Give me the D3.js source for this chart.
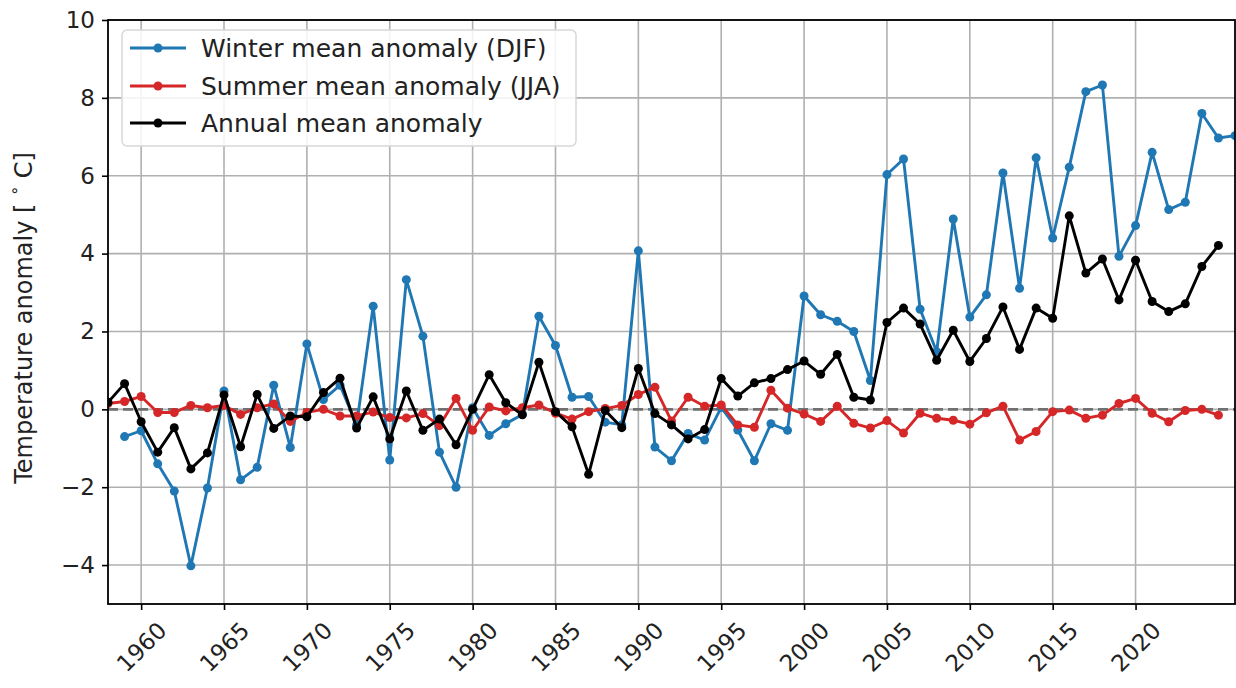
<!DOCTYPE html>
<html>
<head>
<meta charset="utf-8">
<script src="https://cdn.jsdelivr.net/npm/d3@7/dist/d3.min.js"></script>
<style>
  html, body { margin: 0; padding: 0; background: #fff; }
  svg { display: block; font-family: "DejaVu Sans", sans-serif; }
</style>
</head>
<body>
<svg id="chart" width="1236" height="688"></svg>
<script>
// ---- data ----
const annualYears = d3.range(1958, 2026);   // 1958..2025
const winterYears = d3.range(1959, 2027);   // 1959..2026

const winterValues = [
  -0.70, -0.55, -1.40, -2.10, -4.02, -2.02, 0.47, -1.81, -1.49, 0.62,
  -0.98, 1.68, 0.25, 0.62, -0.40, 2.65, -1.30, 3.33, 1.88, -1.10,
  -2.00, 0.04, -0.67, -0.37, -0.13, 2.39, 1.64, 0.31, 0.33, -0.33,
  -0.40, 4.07, -0.97, -1.32, -0.62, -0.79, 0.05, -0.53, -1.32, -0.37,
  -0.54, 2.91, 2.43, 2.26, 2.00, 0.74, 6.03, 6.43, 2.57, 1.48,
  4.89, 2.37, 2.94, 6.07, 3.11, 6.46, 4.40, 6.22, 8.16, 8.33,
  3.93, 4.72, 6.60, 5.13, 5.32, 7.60, 6.97, 7.03
];

const summerValues = [
  0.15, 0.20, 0.33, -0.08, -0.08, 0.10, 0.04, 0.10, -0.13, 0.04,
  0.14, -0.31, -0.08, 0.00, -0.17, -0.17, -0.07, -0.21, -0.22, -0.11,
  -0.42, 0.28, -0.54, 0.06, -0.04, 0.04, 0.11, -0.10, -0.25, -0.06,
  0.02, 0.10, 0.38, 0.57, -0.30, 0.31, 0.08, 0.11, -0.40, -0.46,
  0.49, 0.03, -0.12, -0.31, 0.08, -0.36, -0.48, -0.29, -0.61, -0.10,
  -0.23, -0.28, -0.38, -0.09, 0.08, -0.79, -0.57, -0.06, -0.02, -0.23,
  -0.15, 0.15, 0.28, -0.10, -0.32, -0.03, 0.00, -0.15
];

const annualValues = [
  0.18, 0.66, -0.32, -1.10, -0.47, -1.53, -1.12, 0.37, -0.96, 0.38,
  -0.49, -0.17, -0.19, 0.43, 0.80, -0.48, 0.32, -0.76, 0.47, -0.54,
  -0.25, -0.91, 0.00, 0.89, 0.17, -0.14, 1.21, -0.06, -0.45, -1.67,
  -0.03, -0.47, 1.05, -0.11, -0.40, -0.76, -0.52, 0.79, 0.34, 0.68,
  0.79, 1.02, 1.24, 0.90, 1.41, 0.31, 0.24, 2.23, 2.60, 2.19,
  1.26, 2.03, 1.23, 1.82, 2.63, 1.54, 2.60, 2.34, 4.97, 3.50,
  3.86, 2.81, 3.83, 2.77, 2.51, 2.71, 3.67, 4.21
];

const xTickValues = d3.range(1960, 2021, 5);
const yTickValues = [-4, -2, 0, 2, 4, 6, 8, 10];

const seriesNames = ["Winter mean anomaly (DJF)", "Summer mean anomaly (JJA)", "Annual mean anomaly"];
const seriesColors = ["#1f77b4", "#d62728", "#000000"];

// ---- layout ----
const W = 1236, H = 688;
const plot = { left: 108, right: 1235, top: 20, bottom: 604 };
const FONT = 23;

const svg = d3.select("#chart");
const x = d3.scaleLinear().domain([1958, 2026]).range([plot.left, plot.right]);
const y = d3.scaleLinear().domain([-5, 10]).range([plot.bottom, plot.top]);

svg.append("defs").append("clipPath").attr("id", "clip")
  .append("rect")
  .attr("x", plot.left).attr("y", plot.top)
  .attr("width", plot.right - plot.left).attr("height", plot.bottom - plot.top);

// gridlines
const grid = svg.append("g");
grid.selectAll("line.gx").data(xTickValues).join("line")
  .attr("x1", d => x(d)).attr("x2", d => x(d))
  .attr("y1", plot.top).attr("y2", plot.bottom)
  .attr("stroke", "#b0b0b0").attr("stroke-width", 1.6);
grid.selectAll("line.gy").data(yTickValues).join("line")
  .attr("y1", d => y(d)).attr("y2", d => y(d))
  .attr("x1", plot.left).attr("x2", plot.right)
  .attr("stroke", "#b0b0b0").attr("stroke-width", 1.6);

// zero dashed line
svg.append("line")
  .attr("x1", plot.left).attr("x2", plot.right)
  .attr("y1", y(0)).attr("y2", y(0))
  .attr("stroke", "#707070").attr("stroke-width", 2.6)
  .attr("stroke-dasharray", "10,5");

// series
const series = [
  { years: winterYears, values: winterValues },
  { years: annualYears, values: summerValues },
  { years: annualYears, values: annualValues }
];
const line = d3.line().x(d => x(d[0])).y(d => y(d[1]));
const gData = svg.append("g").attr("clip-path", "url(#clip)");
series.forEach((s, i) => {
  const pts = s.years.map((yr, j) => [yr, s.values[j]]);
  gData.append("path").datum(pts)
    .attr("d", line).attr("fill", "none")
    .attr("stroke", seriesColors[i]).attr("stroke-width", 2.9)
    .attr("stroke-linejoin", "round");
  gData.selectAll(null).data(pts).join("circle")
    .attr("cx", d => x(d[0])).attr("cy", d => y(d[1]))
    .attr("r", 4.5).attr("fill", seriesColors[i]);
});

// frame
svg.append("rect")
  .attr("x", plot.left).attr("y", plot.top)
  .attr("width", plot.right - plot.left).attr("height", plot.bottom - plot.top)
  .attr("fill", "none").attr("stroke", "#000").attr("stroke-width", 1.8);

// axes
const yAxis = svg.append("g").attr("transform", `translate(${plot.left},0)`)
  .call(d3.axisLeft(y).tickValues(yTickValues).tickSize(6).tickPadding(7)
    .tickFormat(d => d < 0 ? "\u2212" + Math.abs(d) : d));
yAxis.select(".domain").remove();
yAxis.selectAll(".tick line").attr("stroke", "#000").attr("stroke-width", 1.6);
yAxis.selectAll(".tick text").attr("font-size", FONT).attr("fill", "#222")
  .attr("font-family", "DejaVu Sans");

const xAxis = svg.append("g").attr("transform", `translate(0,${plot.bottom})`)
  .call(d3.axisBottom(x).tickValues(xTickValues).tickSize(6).tickFormat(d3.format("d")));
xAxis.select(".domain").remove();
xAxis.selectAll(".tick line").attr("stroke", "#000").attr("stroke-width", 1.6);
xAxis.selectAll(".tick text")
  .attr("font-size", FONT).attr("fill", "#222").attr("font-family", "DejaVu Sans")
  .attr("text-anchor", "middle").attr("dy", null).attr("y", null)
  .attr("dominant-baseline", "central")
  .attr("transform", "translate(0,43) rotate(-45)");

// y label
const yl = svg.append("text")
  .attr("transform", `translate(24,${(plot.top + plot.bottom) / 2 + 6}) rotate(-90)`)
  .attr("text-anchor", "middle").attr("dominant-baseline", "central")
  .attr("font-size", FONT + 1).attr("fill", "#222");
yl.append("tspan").text("Temperature anomaly [ ");
yl.append("tspan").attr("font-size", FONT * 0.7).attr("baseline-shift", "super").text("\u2218");
yl.append("tspan").text(" C]");

// legend
const leg = svg.append("g");
leg.append("rect")
  .attr("x", 122).attr("y", 30).attr("width", 454).attr("height", 116)
  .attr("rx", 5).attr("fill", "#fff").attr("fill-opacity", 0.85)
  .attr("stroke", "#d8d8d8").attr("stroke-width", 1.5);
const legY = [48, 86, 123];
seriesNames.forEach((name, i) => {
  leg.append("line")
    .attr("x1", 130).attr("x2", 186).attr("y1", legY[i]).attr("y2", legY[i])
    .attr("stroke", seriesColors[i]).attr("stroke-width", 2.9);
  leg.append("circle").attr("cx", 158).attr("cy", legY[i]).attr("r", 4.5)
    .attr("fill", seriesColors[i]);
  leg.append("text").attr("x", 201).attr("y", legY[i])
    .attr("dominant-baseline", "central")
    .attr("font-size", 25).attr("fill", "#222").text(name);
});
</script>
</body>
</html>
